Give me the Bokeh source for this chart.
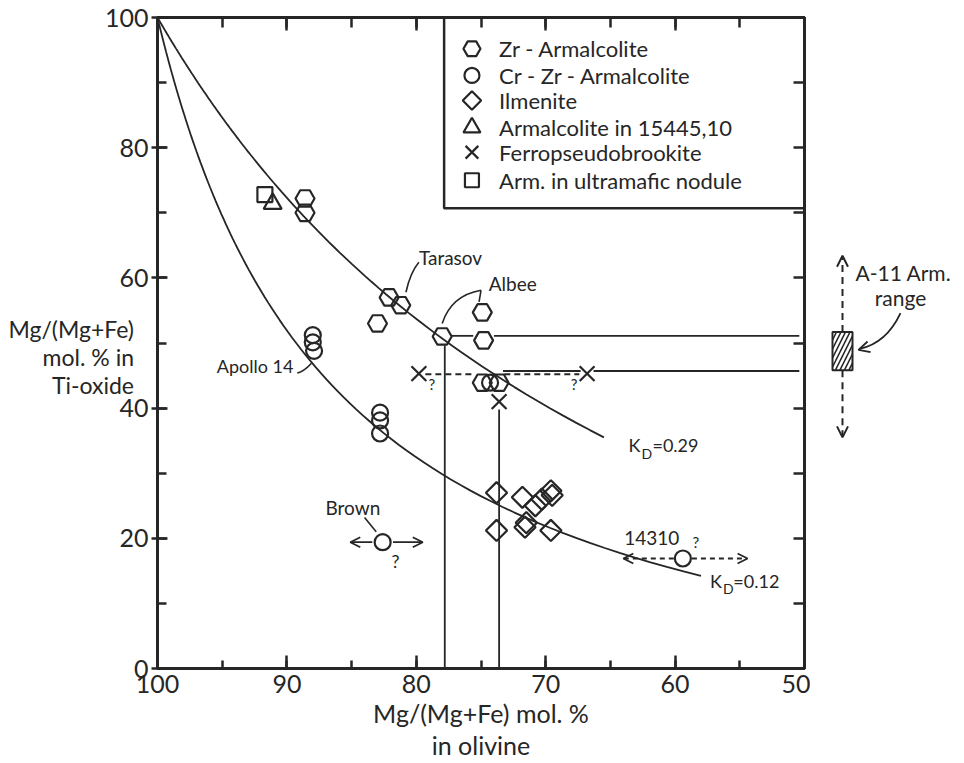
import numpy as np
from bokeh.plotting import figure
from bokeh.models import (Range1d, LinearAxis, SingleIntervalTicker, Arrow, OpenHead,
                          CustomLabelingPolicy)
from bokeh.layouts import row
from bokeh.embed import file_html
from bokeh.resources import INLINE
from bokeh.core.properties import value

INK = "#262626"
FONT = "Lato"

# ---------------- data ----------------
# Zr-Armalcolite (hexagons)
zr_x = [88.6, 88.6, 82.1, 81.2, 83.0, 78.0, 74.9, 74.8, 74.9, 73.6]
zr_y = [72.2, 70.0, 57.0, 55.8, 53.0, 51.0, 54.7, 50.4, 43.9, 43.9]
# Cr-Zr-Armalcolite (circles) incl. Brown and 14310
crzr_x = [88.0, 88.0, 87.9, 82.8, 82.8, 82.8, 74.3, 82.6, 59.4]
crzr_y = [51.2, 50.1, 48.8, 39.3, 38.1, 36.1, 43.9, 19.4, 16.9]
# Ilmenite (diamonds)
ilm_x = [73.8, 73.8, 71.8, 70.8, 69.6, 69.5, 71.5, 71.6, 69.6, 70.3]
ilm_y = [27.0, 21.2, 26.3, 25.0, 27.3, 26.6, 22.4, 21.7, 21.2, 26.0]
# Armalcolite in 15445,10 (triangle)
arm15445_x = [91.1]
arm15445_y = [71.4]
# Ferropseudobrookite (x)
fpb_x = [79.8, 73.6, 66.8]
fpb_y = [45.3, 41.0, 45.3]
# Arm. in ultramafic nodule (square)
ultra_x = [91.7]
ultra_y = [72.8]

# distribution-coefficient curves
KD_UPPER = 0.29
KD_LOWER = 0.12
KD_UPPER_END = 65.5
KD_LOWER_END = 58.0

# tie lines
vert_x = [77.8, 73.6]
vert_top = [49.6, 39.8]
tie_solid_x0 = [77.3, 74.0, 73.3, 66.3]
tie_solid_x1 = [75.6, 50.4, 67.3, 50.4]
tie_solid_y = [51.1, 51.1, 45.7, 45.7]
tie_dash_x0 = [79.3, 73.2]
tie_dash_x1 = [75.6, 67.4]
tie_dash_y = [45.2, 45.2]

# A-11 armalcolite range
a11_low, a11_high = 45.8, 51.7
a11_arrow_top, a11_arrow_bottom = 63.4, 35.5

# legend
leg_labels = ["Zr - Armalcolite", "Cr - Zr - Armalcolite", "Ilmenite",
              "Armalcolite in 15445,10", "Ferropseudobrookite", "Arm. in ultramafic nodule"]

x_title = "Mg/(Mg+Fe) mol. %\nin olivine"
y_title = "\nMg/(Mg+Fe)\nmol. % in\nTi-oxide"
x_ticks_major = 10
y_ticks_major = 20

# ---------------- figure ----------------
p = figure(width=810, height=762, x_range=Range1d(100, 50), y_range=Range1d(0, 100),
           output_backend="svg", toolbar_location=None,
           x_axis_location=None, y_axis_location=None,
           min_border_left=157, min_border_right=3, min_border_top=17, min_border_bottom=94,
           background_fill_color="white", border_fill_color="white")
p.grid.visible = False
p.outline_line_color = INK
p.outline_line_width = 3

hide_all = CustomLabelingPolicy(code="for (const i of Array.from(indices)) indices.unset(i)")


def style_axis(ax, labels=True):
    ax.axis_line_color = INK
    ax.axis_line_width = 3
    ax.major_tick_line_color = INK
    ax.major_tick_line_width = 2.5
    ax.minor_tick_line_color = INK
    ax.minor_tick_line_width = 2.5
    ax.major_label_text_font = FONT
    ax.major_label_text_color = INK
    ax.major_label_text_font_size = "25px"
    if not labels:
        ax.major_label_text_font_size = "2px"
        ax.major_label_standoff = 0
        ax.major_label_policy = hide_all


xb = LinearAxis(ticker=SingleIntervalTicker(interval=x_ticks_major, num_minor_ticks=2))
style_axis(xb)
xb.major_tick_in, xb.major_tick_out = 13, 0
xb.minor_tick_in, xb.minor_tick_out = 8, 0
xb.major_label_standoff = 6
xb.axis_label = x_title
xb.axis_label_text_font = FONT
xb.axis_label_text_font_style = "normal"
xb.axis_label_text_font_size = "25px"
xb.axis_label_text_color = INK
xb.axis_label_text_line_height = 1.08
xb.axis_label_standoff = 2
p.add_layout(xb, "below")

xt = LinearAxis(ticker=SingleIntervalTicker(interval=x_ticks_major, num_minor_ticks=2))
style_axis(xt, labels=False)
xt.major_tick_in, xt.major_tick_out = 13, 0
xt.minor_tick_in, xt.minor_tick_out = 10, 0
p.add_layout(xt, "above")

yl = LinearAxis(ticker=SingleIntervalTicker(interval=y_ticks_major, num_minor_ticks=2))
style_axis(yl)
yl.major_tick_in, yl.major_tick_out = 10, 6
yl.minor_tick_in, yl.minor_tick_out = 9, 0
yl.major_label_standoff = 3
yl.axis_label = y_title
yl.axis_label_orientation = "horizontal"
yl.axis_label_text_font = FONT
yl.axis_label_text_font_style = "normal"
yl.axis_label_text_font_size = "23px"
yl.axis_label_text_color = INK
yl.axis_label_text_align = "center"
yl.axis_label_text_line_height = 1.0
yl.axis_label_standoff = -32
p.add_layout(yl, "left")

yr = LinearAxis(ticker=SingleIntervalTicker(interval=10, num_minor_ticks=0))
style_axis(yr, labels=False)
yr.major_tick_in, yr.major_tick_out = 11, 0
p.add_layout(yr, "right")


# curves
def kd_curve(kd, x_end):
    x = 100 - np.geomspace(1e-4, 100 - x_end, 400)
    r = x / (100 - x)
    y = 100 * kd * r / (1 + kd * r)
    return np.concatenate([[100.0], x]), np.concatenate([[100.0], y])


for kd, xe in [(KD_UPPER, KD_UPPER_END), (KD_LOWER, KD_LOWER_END)]:
    cx, cy = kd_curve(kd, xe)
    p.line(cx, cy, line_color=INK, line_width=1.8)

# tie lines
p.segment(x0=vert_x, y0=[0, 0], x1=vert_x, y1=vert_top, line_color=INK, line_width=1.8)
p.segment(x0=tie_solid_x0, y0=tie_solid_y, x1=tie_solid_x1, y1=tie_solid_y, line_color=INK, line_width=1.8)
p.segment(x0=tie_dash_x0, y0=tie_dash_y, x1=tie_dash_x1, y1=tie_dash_y, line_color=INK,
          line_width=1.8, line_dash="6 4")

mk = dict(line_color=INK, fill_color=None, line_width=2.2)
p.scatter(zr_x, zr_y, marker="hex", size=19, **mk)
p.scatter(crzr_x, crzr_y, marker="circle", size=16, **mk)
p.scatter(ilm_x, ilm_y, marker="square", angle=np.pi / 4, size=15, **mk)
p.scatter(arm15445_x, arm15445_y, marker="triangle", size=18, **mk)
p.scatter(fpb_x, fpb_y, marker="x", size=21, **mk)
p.scatter(ultra_x, ultra_y, marker="square", size=15, **mk)

# legend box (drawn against the frame corner)
p.line([77.85, 77.85, 50.0], [100, 70.7, 70.7], line_color=INK, line_width=2.5)
leg_y = [95.2, 91.1, 87.25, 83.1, 79.3, 75.0]
leg_x = [75.7] * 6
leg_sizes = [17, 15, 13, 17, 18, 14]
leg_angle = [0, 0, np.pi / 4, 0, 0, 0]
leg_mk = ["hex", "circle", "square", "triangle", "x", "square"]
for m, xx, yy, s, a in zip(leg_mk, leg_x, leg_y, leg_sizes, leg_angle):
    p.scatter([xx], [yy], marker=m, size=s, angle=a, **mk)
p.text(x=[73.6] * 6, y=leg_y, text=leg_labels, text_align="left", text_baseline="middle",
       text_font=value(FONT), text_font_size="22px", text_color=INK)

# annotations
ann = dict(text_font=value(FONT), text_color=INK, text_baseline="middle")
p.text(x=[79.8], y=[63.1], text=["Tarasov"], text_align="left", text_font_size="19px", **ann)
p.quadratic(x0=[80.8], y0=[57.8], x1=[79.8], y1=[62.4], cx=[80.45], cy=[60.9], line_color=INK, line_width=1.6)
p.text(x=[74.4], y=[59.1], text=["Albee"], text_align="left", text_font_size="19px", **ann)
p.quadratic(x0=[78.0], y0=[53.0], x1=[75.0], y1=[58.1], cx=[77.3], cy=[57.3], line_color=INK, line_width=1.6)
p.segment(x0=[75.0], y0=[58.1], x1=[75.15], y1=[56.3], line_color=INK, line_width=1.6)
p.text(x=[89.5], y=[46.5], text=["Apollo 14"], text_align="right", text_font_size="18px", **ann)
p.quadratic(x0=[89.2], y0=[45.4], x1=[88.1], y1=[46.9], cx=[88.7], cy=[45.6], line_color=INK, line_width=1.6)
p.text(x=[84.9], y=[24.8], text=["Brown"], text_align="center", text_font_size="19px", **ann)
p.segment(x0=[84.0], y0=[23.2], x1=[83.1], y1=[21.0], line_color=INK, line_width=1.6)
p.text(x=[81.6], y=[16.5], text=["?"], text_align="center", text_font_size="18px", **ann)
p.text(x=[61.8], y=[20.1], text=["14310"], text_align="center", text_font_size="19px", **ann)
p.text(x=[58.4], y=[19.5], text=["?"], text_align="center", text_font_size="15px", **ann)
p.text(x=[78.8, 67.8], y=[43.7, 43.7], text=["?", "?"], text_align="center", text_font_size="15px", **ann)

# K_D labels
for xk, xd, xe, yk, t in [(63.6, 62.6, 61.75, 34.3, "=0.29"), (57.3, 56.3, 55.5, 13.5, "=0.12")]:
    p.text(x=[xk], y=[yk], text=["K"], text_align="left", text_font_size="18px", **ann)
    p.text(x=[xd], y=[yk - 1.2], text=["D"], text_align="left", text_font_size="14px", **ann)
    p.text(x=[xe], y=[yk], text=[t], text_align="left", text_font_size="18px", **ann)

# arrows (Brown solid, 14310 dashed)
for xs, xe_ in [(83.4, 85.1), (81.8, 79.5)]:
    p.add_layout(Arrow(end=OpenHead(size=10, line_color=INK, line_width=1.8),
                       x_start=xs, y_start=19.4, x_end=xe_, y_end=19.4, line_color=INK, line_width=1.8))
for xs, xe_ in [(60.1, 64.0), (58.7, 54.4)]:
    p.add_layout(Arrow(end=OpenHead(size=10, line_color=INK, line_width=1.8),
                       x_start=xs, y_start=16.9, x_end=xe_, y_end=16.9, line_color=INK,
                       line_width=1.8, line_dash="5 4"))

# ---------------- side panel: A-11 range ----------------
p2 = figure(width=150, height=762, x_range=Range1d(0, 150), y_range=p.y_range,
            output_backend="svg", toolbar_location=None,
            x_axis_location=None, y_axis_location=None,
            min_border_left=0, min_border_right=0, min_border_top=17, min_border_bottom=94,
            outline_line_color=None)
p2.grid.visible = False
p2.quad(left=[22], right=[42], bottom=[a11_low], top=[a11_high], fill_color=None,
        line_color=INK, line_width=2, hatch_pattern="/", hatch_color=INK, hatch_scale=9, hatch_weight=1.6)
p2.add_layout(Arrow(end=OpenHead(size=11, line_color=INK, line_width=2), x_start=32, y_start=a11_high,
                    x_end=32, y_end=a11_arrow_top, line_color=INK, line_width=2, line_dash="7 5"))
p2.add_layout(Arrow(end=OpenHead(size=11, line_color=INK, line_width=2), x_start=32, y_start=a11_low,
                    x_end=32, y_end=a11_arrow_bottom, line_color=INK, line_width=2, line_dash="7 5"))
p2.text(x=[45], y=[60.8], text=["A-11 Arm."], text_align="left", text_baseline="middle",
        text_font=value(FONT), text_font_size="21px", text_color=INK)
p2.text(x=[90], y=[57.0], text=["range"], text_align="center", text_baseline="middle",
        text_font=value(FONT), text_font_size="21px", text_color=INK)
p2.quadratic(x0=[90], y0=[54.6], x1=[49], y1=[49.1], cx=[76], cy=[50.0], line_color=INK, line_width=1.8)
p2.add_layout(Arrow(end=OpenHead(size=11, line_color=INK, line_width=1.8), x_start=56, y_start=49.3,
                    x_end=48, y_end=48.95, line_alpha=0))

layout = row(p, p2)
open("out.html", "w").write(file_html(layout, INLINE))
